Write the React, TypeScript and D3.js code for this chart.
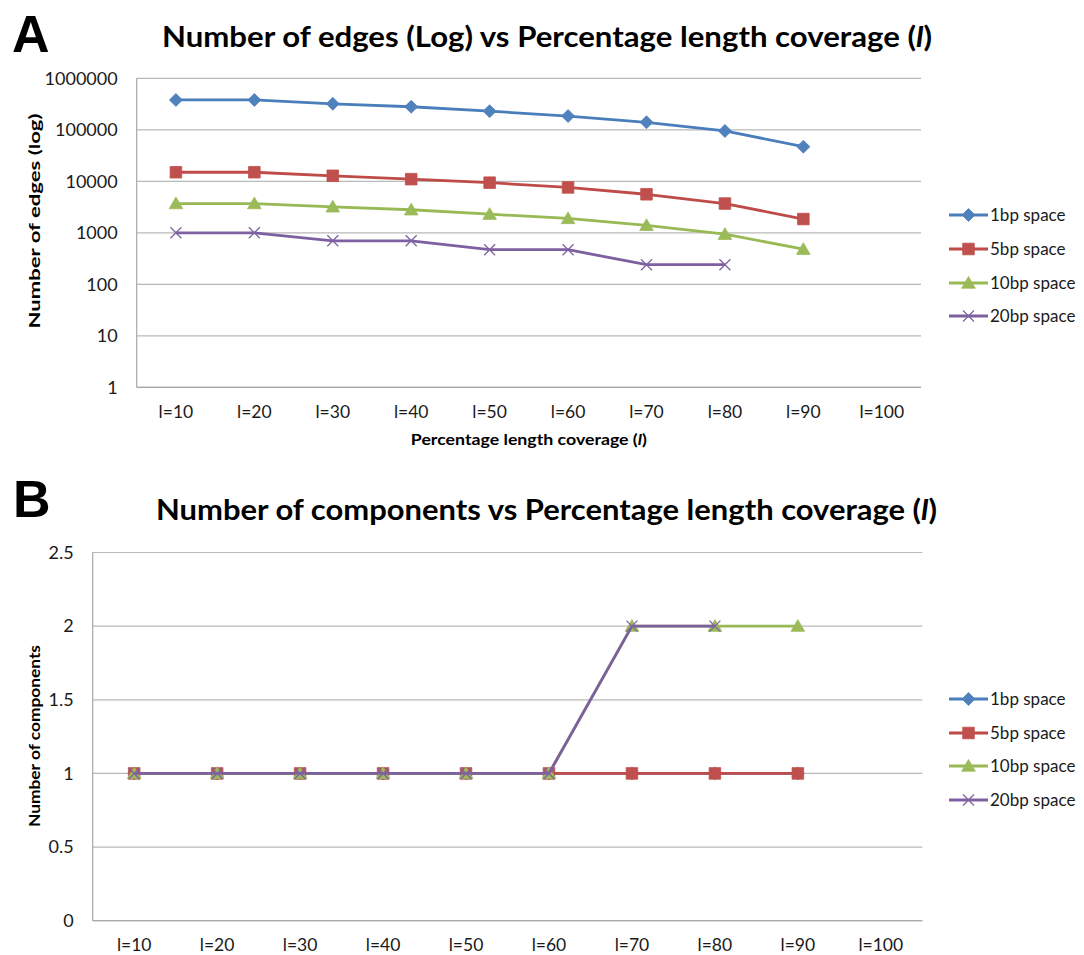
import React from "react";
import * as d3 from "d3";

// categories on the x axis (percentage length coverage)
const categories = ["l=10", "l=20", "l=30", "l=40", "l=50", "l=60", "l=70", "l=80", "l=90", "l=100"];
const seriesNames = ["1bp space", "5bp space", "10bp space", "20bp space"];

// panel A: number of edges (log scale)
const edges1bp = [380000, 380000, 320000, 280000, 230000, 185000, 140000, 95000, 47000];
const edges5bp = [15000, 15000, 12800, 11000, 9400, 7600, 5600, 3700, 1850];
const edges10bp = [3700, 3700, 3200, 2800, 2300, 1900, 1400, 940, 480];
const edges20bp = [1000, 1000, 700, 700, 470, 470, 240, 240];
const edgeTicks = [1, 10, 100, 1000, 10000, 100000, 1000000];

// panel B: number of components
const comps1bp = [1, 1, 1, 1, 1, 1, 1, 1, 1];
const comps5bp = [1, 1, 1, 1, 1, 1, 1, 1, 1];
const comps10bp = [1, 1, 1, 1, 1, 1, 2, 2, 2];
const comps20bp = [1, 1, 1, 1, 1, 1, 2, 2];
const compTicks = [0, 0.5, 1, 1.5, 2, 2.5];

const lineColors = ["#4A7EBB", "#BE4B48", "#98B954", "#7D60A0"];
const markColors = ["#4F81BD", "#C0504D", "#9BBB59", "#8064A2"];
const FONT = "Lato, 'Open Sans', 'DejaVu Sans', sans-serif";

function Marker({ kind, x, y }) {
  const c = markColors[kind];
  const t = `translate(${x},${y})`;
  if (kind === 0) return <path transform={t} d="M0,-6.5L6.5,0L0,6.5L-6.5,0Z" fill={c} stroke={c} strokeWidth={0.8} />;
  if (kind === 1) return <path transform={t} d="M-5.8,-5.8h11.6v11.6h-11.6Z" fill={c} stroke={c} strokeWidth={0.8} />;
  if (kind === 2) return <path transform={t} d="M0,-6.5L6.8,5.2L-6.8,5.2Z" fill={c} stroke={c} strokeWidth={0.8} />;
  return <path transform={t} d="M-5.5,-5.5L5.5,5.5M-5.5,5.5L5.5,-5.5" fill="none" stroke={c} strokeWidth={1.3} />;
}

function Panel({ left, right, top, bottom, y, ticks, fmt, data, yTitle, yTitleY, yTitleLen, xTitle, legendY }) {
  const x = d3.scaleBand().domain(categories).range([left, right]).padding(0);
  const cx = (i) => x(categories[i]) + x.bandwidth() / 2;
  const line = d3
    .line()
    .x((d, i) => cx(i))
    .y((d) => y(d));

  return (
    <g>
      {ticks.map((t) => (
        <line key={"g" + t} x1={left} x2={right} y1={y(t)} y2={y(t)} stroke="#b9b9b9" strokeWidth={1.2} />
      ))}
      <line x1={left} x2={left} y1={top} y2={bottom} stroke="#a8a8a8" strokeWidth={1.2} />
      <line x1={left} x2={right} y1={bottom} y2={bottom} stroke="#a8a8a8" strokeWidth={1.2} />
      {ticks.map((t) => (
        <text key={"t" + t} x={left - 19} y={y(t) + 6.3} textAnchor="end" fontSize={18} fill="#1a1a1a">
          {fmt(t)}
        </text>
      ))}
      {categories.map((c, i) => (
        <text key={c} x={cx(i)} y={bottom + 30.3} textAnchor="middle" fontSize={17.5} fill="#1a1a1a">
          {c}
        </text>
      ))}
      {data.map((vals, s) => (
        <g key={s}>
          <path d={line(vals)} fill="none" stroke={lineColors[s]} strokeWidth={2.8} strokeLinejoin="round" />
          {vals.map((v, i) => (
            <Marker key={i} kind={s} x={cx(i)} y={y(v)} />
          ))}
        </g>
      ))}
      <text
        transform={`translate(39.5,${yTitleY}) rotate(-90)`}
        textAnchor="middle"
        fontSize={15}
        fontWeight="bold"
        textLength={yTitleLen}
        lengthAdjust="spacingAndGlyphs"
      >
        {yTitle}
      </text>
      {xTitle && (
        <text x={(left + right) / 2} y={bottom + 57.7} textAnchor="middle" fontSize={15} fontWeight="bold" textLength={236} lengthAdjust="spacingAndGlyphs">
          <tspan>{xTitle} (</tspan>
          <tspan fontStyle="italic">l</tspan>
          <tspan>)</tspan>
        </text>
      )}
      {seriesNames.map((n, s) => (
        <g key={n}>
          <line x1={949} x2={988} y1={legendY[s]} y2={legendY[s]} stroke={lineColors[s]} strokeWidth={2.8} />
          <Marker kind={s} x={968.5} y={legendY[s]} />
          <text x={990} y={legendY[s] + 6} fontSize={17} fill="#1a1a1a">
            {n}
          </text>
        </g>
      ))}
    </g>
  );
}

export default function App() {
  const yA = d3.scaleLog().domain([1, 1000000]).range([387.3, 78.3]);
  const yB = d3.scaleLinear().domain([0, 2.5]).range([920.7, 552.5]);

  return (
    <svg
      width={1084}
      height={955}
      style={{ position: "absolute", left: 0, top: 0, background: "#fff" }}
      fontFamily={FONT}
    >
      <rect width={1084} height={955} fill="#fff" />
      <text x={12} y={51.7} fontSize={52} fontWeight="bold" fontFamily="'Liberation Sans', Arial, sans-serif">
        A
      </text>
      <text x={162} y={46.7} fontSize={28} fontWeight="bold" textLength={770} lengthAdjust="spacingAndGlyphs">
        <tspan>Number of edges (Log) vs Percentage length coverage (</tspan>
        <tspan fontStyle="italic">l</tspan>
        <tspan>)</tspan>
      </text>
      <Panel
        left={136.7}
        right={921}
        top={78.3}
        bottom={387.3}
        y={yA}
        ticks={edgeTicks}
        fmt={d3.format("d")}
        data={[edges1bp, edges5bp, edges10bp, edges20bp]}
        yTitle="Number of edges (log)"
        yTitleY={221}
        yTitleLen={215}
        xTitle="Percentage length coverage"
        legendY={[215, 249, 283, 316]}
      />

      <text x={13} y={516.5} fontSize={52} fontWeight="bold" fontFamily="'Liberation Sans', Arial, sans-serif">
        B
      </text>
      <text x={156} y={520} fontSize={28} fontWeight="bold" textLength={781} lengthAdjust="spacingAndGlyphs">
        <tspan>Number of components vs Percentage length coverage (</tspan>
        <tspan fontStyle="italic">l</tspan>
        <tspan>)</tspan>
      </text>
      <Panel
        left={92.7}
        right={922.3}
        top={552.5}
        bottom={920.7}
        y={yB}
        ticks={compTicks}
        fmt={(v) => String(v)}
        data={[comps1bp, comps5bp, comps10bp, comps20bp]}
        yTitle="Number of components"
        yTitleY={736}
        yTitleLen={182}
        xTitle={null}
        legendY={[699, 733, 766, 800]}
      />
    </svg>
  );
}
